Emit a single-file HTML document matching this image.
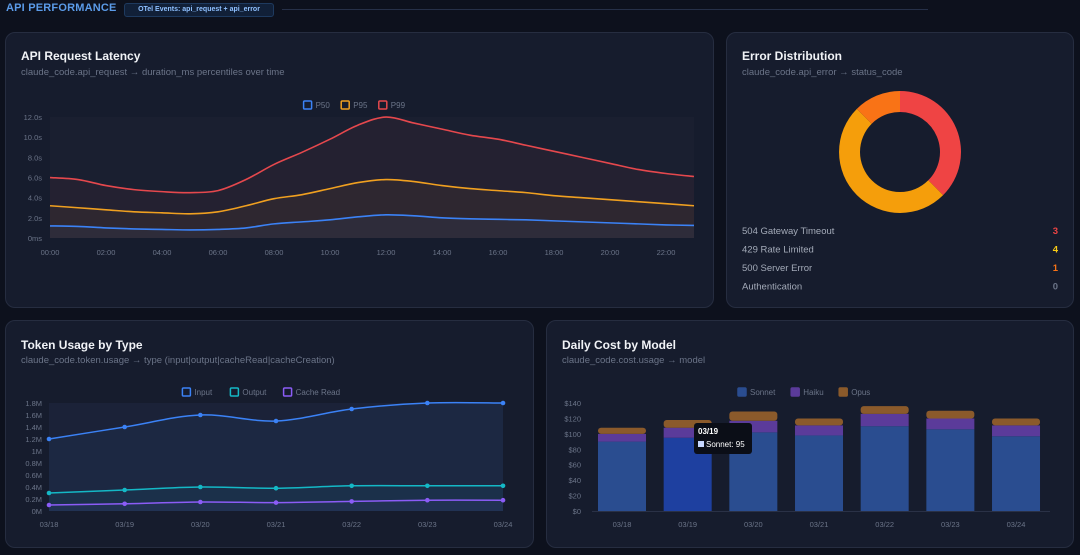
<!DOCTYPE html>
<html><head><meta charset="utf-8"><style>
body{margin:0;width:1080px;height:555px;background:#0d111d;font-family:"Liberation Sans",sans-serif;overflow:hidden;position:relative}
.panel{position:absolute;background:#161c2d;border:1px solid #262d40;border-radius:10px;box-sizing:border-box}
.t{position:absolute;color:#f1f3f7;font-weight:bold;font-size:12px}
.s{position:absolute;color:#6b7488;font-size:9.5px}
svg{position:absolute;left:0;top:0}
svg text{font-family:"Liberation Sans",sans-serif}
</style></head><body>
<div style="position:absolute;left:6px;top:2px;color:#5b9be8;font-weight:bold;font-size:11px;letter-spacing:0.2px">API PERFORMANCE</div>
<div style="position:absolute;left:124px;top:3px;width:148px;height:12px;border:1px solid #1e3a5f;background:#112038;border-radius:3px;color:#8fc0ff;font-size:7px;font-weight:bold;line-height:12px;text-align:center">OTel Events: api_request + api_error</div>
<div style="position:absolute;left:282px;top:9px;width:646px;height:1px;background:#263048"></div>

<div class="panel" style="left:5px;top:32px;width:709px;height:276px"></div>
<div class="t" style="left:21px;top:49px">API Request Latency</div>
<div class="s" style="left:21px;top:67px">claude_code.api_request → duration_ms percentiles over time</div>

<div class="panel" style="left:726px;top:32px;width:348px;height:276px"></div>
<div class="t" style="left:742px;top:49px">Error Distribution</div>
<div class="s" style="left:742px;top:67px">claude_code.api_error → status_code</div>

<div class="panel" style="left:5px;top:320px;width:529px;height:228px"></div>
<div class="t" style="left:21px;top:338px">Token Usage by Type</div>
<div class="s" style="left:21px;top:355px">claude_code.token.usage → type (input|output|cacheRead|cacheCreation)</div>

<div class="panel" style="left:546px;top:320px;width:528px;height:228px"></div>
<div class="t" style="left:562px;top:338px">Daily Cost by Model</div>
<div class="s" style="left:562px;top:355px">claude_code.cost.usage → model</div>

<svg id="svg" width="1080" height="555"></svg>

<script>
// Latency
const hours=[0,1,2,3,4,5,6,7,8,9,10,11,12,13,14,15,16,17,18,19,20,21,22,23];
const latTicks=["0ms","2.0s","4.0s","6.0s","8.0s","10.0s","12.0s"];
const p50=[1.2,1.15,1.0,0.9,0.85,0.8,0.85,1.0,1.4,1.6,1.8,2.1,2.3,2.2,2.0,1.9,1.85,1.8,1.7,1.6,1.5,1.4,1.3,1.25];
const p95=[3.2,3.0,2.8,2.6,2.5,2.4,2.6,3.2,3.9,4.3,4.9,5.5,5.8,5.6,5.2,4.9,4.7,4.5,4.2,4.0,3.8,3.6,3.4,3.2];
const p99=[6.0,5.8,5.2,4.8,4.6,4.5,4.7,5.8,7.3,8.5,9.8,11.2,12.0,11.4,10.8,10.2,9.8,9.2,8.6,8.0,7.4,6.8,6.4,6.1];
// Errors
const errLabels=["504 Gateway Timeout","429 Rate Limited","500 Server Error","Authentication"];
const errValues=[3,4,1,0];
// Tokens
const days=["03/18","03/19","03/20","03/21","03/22","03/23","03/24"];
const tokTicks=["0M","0.2M","0.4M","0.6M","0.8M","1M","1.2M","1.4M","1.6M","1.8M"];
const tokInput=[1.2,1.4,1.6,1.5,1.7,1.8,1.8];
const tokOutput=[0.3,0.35,0.4,0.38,0.42,0.42,0.42];
const tokCache=[0.1,0.12,0.15,0.14,0.16,0.18,0.18];
// Cost
const costTicks=[0,20,40,60,80,100,120,140];
const sonnet=[90,95,102,98,110,106,97];
const haiku=[10,13,15,13,16,14,14];
const opus=[8,10,12,9,10,10,9];

const svg=document.getElementById('svg');
const NS='http://www.w3.org/2000/svg';
function mk(tag,a,parent){const e=document.createElementNS(NS,tag);for(const k in a)e.setAttribute(k,a[k]);(parent||svg).appendChild(e);return e;}
function txt(x,y,s,a){const e=mk('text',Object.assign({x:x,y:y,fill:'#6b7488','font-size':8},a||{}));e.textContent=s;return e;}
function smooth(pts){let d='M'+pts[0][0]+','+pts[0][1];for(let i=0;i<pts.length-1;i++){const p0=pts[i-1]||pts[i],p1=pts[i],p2=pts[i+1],p3=pts[i+2]||p2;const c1x=p1[0]+(p2[0]-p0[0])/6,c1y=p1[1]+(p2[1]-p0[1])/6,c2x=p2[0]-(p3[0]-p1[0])/6,c2y=p2[1]-(p3[1]-p1[1])/6;d+=' C'+c1x+','+c1y+' '+c2x+','+c2y+' '+p2[0]+','+p2[1];}return d;}
function legend(items,cx,y,square){let w=0;items.forEach(it=>w+=it[0].length*5.2+22);let x=cx-w/2;items.forEach(it=>{const r=mk('rect',{x:x,y:y-7,width:8,height:8,fill:square?it[1]:'none',stroke:it[1],'stroke-width':1.5,rx:1});const t=txt(x+12,y,it[0]);x+=it[0].length*5.2+22;});}

// Latency chart
{const X=h=>50+h*28, Y=v=>238-v*10.08;
mk('rect',{x:50,y:117,width:644,height:121,fill:'#1a1f30'});
latTicks.forEach((t,i)=>{const e=txt(42,Y(i*2)+3,t,{'text-anchor':'end','font-size':7.5});});
for(let h=0;h<=22;h+=2){const e=txt(X(h),255,(h<10?'0':'')+h+':00',{'text-anchor':'middle','font-size':7.5});}
[[p99,'#e5484d','p99'],[p95,'#f0a020','p95'],[p50,'#3b82f6','p50']].forEach(s=>{const pts=s[0].map((v,i)=>[X(hours[i]),Y(v)]);
const a=mk('path',{d:smooth(pts)+' L'+X(23)+',238 L'+X(0)+',238 Z',fill:s[1],'fill-opacity':0.05});
const l=mk('path',{d:smooth(pts),fill:'none',stroke:s[1],'stroke-width':1.6});});
legend([['P50','#3b82f6'],['P95','#f0a020'],['P99','#e5484d']],360,108,false);}

// Donut
{const cx=900,cy=152,R=61,r=40;const cols=['#ef4444','#f59e0b','#f97316','#64748b'];const tot=errValues.reduce((a,b)=>a+b,0);let a0=0;
errValues.forEach((v,i)=>{if(!v)return;const a1=a0+v/tot*2*Math.PI;const p=(rr,a)=>[cx+rr*Math.sin(a),cy-rr*Math.cos(a)];const L=(a1-a0)>Math.PI?1:0;
const[o0,o1,i1,i0]=[p(R,a0),p(R,a1),p(r,a1),p(r,a0)];
const e=mk('path',{d:`M${o0} A${R},${R} 0 ${L} 1 ${o1} L${i1} A${r},${r} 0 ${L} 0 ${i0}Z`,fill:cols[i]});a0=a1;});
errLabels.forEach((l,i)=>{const y=234+i*18.5;const a=txt(742,y,l,{fill:'#a3aab8','font-size':9.5});
const b=txt(1058,y,errValues[i],{fill:errValues[i]?cols[i]:'#6b7488','font-size':9.5,'font-weight':'bold','text-anchor':'end'});if(i==1)b.setAttribute('fill','#facc15');});}

// Token chart
{const X=i=>49+i*75.67, Y=v=>511-v*60;
mk('rect',{x:49,y:403,width:454,height:108,fill:'#1b2238'});
tokTicks.forEach((t,i)=>{const e=txt(42,Y(i*0.2)+3,t,{'text-anchor':'end','font-size':7.5});});
days.forEach((d,i)=>{const e=txt(X(i),527,d,{'text-anchor':'middle','font-size':7.5});});
[[tokInput,'#3b82f6','input'],[tokOutput,'#14b8c6','output'],[tokCache,'#8b5cf6','cache-read']].forEach(s=>{const pts=s[0].map((v,i)=>[X(i),Y(v)]);
const a=mk('path',{d:smooth(pts)+' L'+X(6)+',511 L'+X(0)+',511 Z',fill:s[1],'fill-opacity':0.06});
const l=mk('path',{d:smooth(pts),fill:'none',stroke:s[1],'stroke-width':1.5});
pts.forEach(p=>{const c=mk('circle',{cx:p[0],cy:p[1],r:2.3,fill:s[1]});});});
legend([['Input','#3b82f6'],['Output','#14b8c6'],['Cache Read','#8b5cf6']],270,395,false);}

// Cost chart
{const X=i=>622+i*65.67, Y=v=>511-v*0.771, bw=48;
mk('line',{x1:592,x2:1050,y1:511.5,y2:511.5,stroke:'#2a3146'});
costTicks.forEach(t=>{const e=txt(581,Y(t)+3,'$'+t,{'text-anchor':'end','font-size':7.5});});
days.forEach((d,i)=>{const e=txt(X(i),527,d,{'text-anchor':'middle','font-size':7.5});
let base=0;[[sonnet,i==1?'#1e40a0':'#2a4d90','sonnet'],[haiku,'#5b3b9a','haiku'],[opus,'#8b5a2b','opus']].forEach((s,k)=>{const v=s[0][i];const b=mk('rect',{x:X(i)-bw/2,y:Y(base+v),width:bw,height:v*0.771,fill:s[1],rx:k==2?3:0});base+=v;});});
legend([['Sonnet','#2a4d90'],['Haiku','#5b3b9a'],['Opus','#8b5a2b']],810,395,true);
// tooltip
const g=mk('g',{});
mk('rect',{x:694,y:423,width:58,height:31,rx:3,fill:'#0b0e17'},g);
const t1=txt(698,434,days[1],{fill:'#fff','font-size':8,'font-weight':'bold'},);g.appendChild(t1);
mk('rect',{x:698,y:441,width:6,height:6,fill:'#c7d7ff'},g);
const t2=txt(706,447,'Sonnet: '+sonnet[1],{fill:'#fff','font-size':8});g.appendChild(t2);}
</script>
</body></html>
